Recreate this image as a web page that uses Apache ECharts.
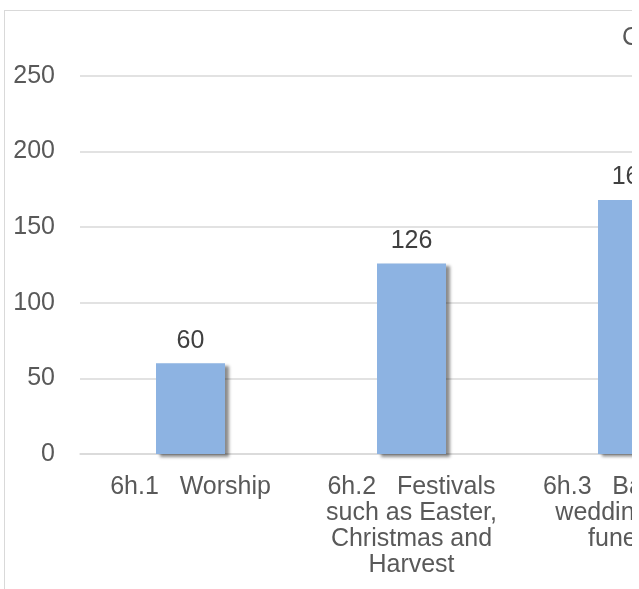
<!DOCTYPE html>
<html>
<head>
<meta charset="utf-8">
<script src="https://cdn.jsdelivr.net/npm/echarts@6/dist/echarts.min.js"></script>
<style>
  html, body { margin: 0; padding: 0; background: #ffffff; }
  #frame {
    position: absolute;
    left: 4px;
    top: 10px;
    width: 627px;
    height: 579px;
    overflow: hidden;
    border-left: 1px solid #d9d9d9;
    border-top: 1px solid #d9d9d9;
  }
  #chart { width: 800px; height: 579px; }
</style>
</head>
<body>
<div id="frame"><div id="chart"></div></div>
<script>
// chart data
var categories = [
  "6h.1   Worship",
  "6h.2   Festivals\nsuch as Easter,\nChristmas and\nHarvest",
  "6h.3   Baptisms,\nweddings and\nfunerals"
];
var counts = [60, 126, 168];
var yTicks = { min: 0, max: 250, interval: 50 };
var titleText = "Count";

var chart = echarts.init(document.getElementById("chart"));

var font = "Liberation Sans, Arial, sans-serif";

var option = {
  animation: false,
  title: {
    text: titleText,
    left: 612,
    top: 10,
    textStyle: {
      fontFamily: font,
      fontSize: 25,
      fontWeight: "normal",
      color: "#595959"
    }
  },
  grid: { left: 75, top: 65, width: 663, height: 378 },
  xAxis: {
    type: "category",
    data: categories,
    axisTick: { show: false },
    axisLine: { lineStyle: { color: "#d9d9d9", width: 1.5 } },
    axisLabel: {
      interval: 0,
      margin: 20,
      color: "#595959",
      fontSize: 25,
      lineHeight: 26,
      fontFamily: font
    }
  },
  yAxis: {
    type: "value",
    min: yTicks.min,
    max: yTicks.max,
    interval: yTicks.interval,
    axisLine: { show: false },
    axisTick: { show: false },
    splitLine: { lineStyle: { color: "#d9d9d9", width: 1.5 } },
    axisLabel: {
      margin: 25,
      color: "#595959",
      fontSize: 25,
      fontFamily: font
    }
  },
  series: [
    {
      type: "bar",
      data: counts,
      barWidth: 69,
      itemStyle: {
        color: "#8db3e2",
        shadowColor: "rgba(0,0,0,0.45)",
        shadowBlur: 3,
        shadowOffsetX: 4,
        shadowOffsetY: 3
      },
      label: {
        show: true,
        position: "top",
        distance: 10,
        color: "#404040",
        fontSize: 25,
        fontFamily: font
      }
    }
  ]
};

chart.setOption(option);
</script>
</body>
</html>
